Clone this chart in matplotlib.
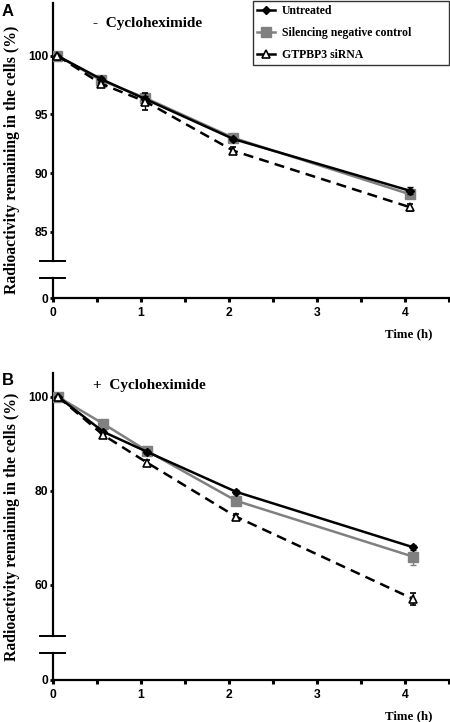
import matplotlib
matplotlib.use('Agg')
import matplotlib.pyplot as plt
from matplotlib.lines import Line2D
from matplotlib.ticker import MultipleLocator

# sampling times (h), points are drawn slightly right of the tick as in the figure
time_a = [0.05, 0.55, 1.05, 2.05, 4.05]
time_b = [0.06, 0.57, 1.07, 2.08, 4.09]

labels = ['Untreated', 'Silencing negative control', 'GTPBP3 siRNA']

# panel A: - cycloheximide
untreated_a = [100.0, 98.0, 96.3, 92.9, 88.5]
silencing_a = [100.0, 97.9, 96.4, 93.0, 88.2]
gtpbp3_a = [100.0, 97.6, 96.1, 91.9, 87.1]
untreated_a_err = [0.0, 0.2, 0.3, 0.2, 0.3]
silencing_a_err = [0.0, 0.2, 0.2, 0.2, 0.3]
gtpbp3_a_err = [0.0, 0.3, 0.7, 0.3, 0.3]

# panel B: + cycloheximide
untreated_b = [100.0, 92.6, 88.3, 79.8, 68.0]
silencing_b = [100.0, 94.3, 88.5, 77.9, 66.0]
gtpbp3_b = [100.0, 91.9, 86.0, 74.5, 57.0]
untreated_b_err = [0.0, 0.3, 0.4, 0.4, 0.5]
silencing_b_err = [0.0, 0.4, 0.5, 0.6, 1.8]
gtpbp3_b_err = [0.0, 0.5, 0.6, 0.6, 1.2]

SERIF = 'Liberation Serif'
SANS = 'Liberation Sans'
W, H = 450, 722
TICK_FS = 8.7

STYLES = [
    dict(color='black', ls='-', marker='D', ms=4.5, mfc='black', lw=1.8, zorder=4),
    dict(color='#808080', ls='-', marker='s', ms=6.5, mfc='#808080', mec='#808080', lw=1.8, zorder=3),
    dict(color='black', ls=(0, (4, 2.5)), marker='^', ms=6, mfc='white', mew=1.2, lw=1.8, zorder=5),
]


def frac(x0, y0, x1, y1):
    # pixel box (top-left origin) -> figure fraction rect
    return [x0 / W, 1 - y1 / H, (x1 - x0) / W, (y1 - y0) / H]


def draw_series(ax, t, ys, errs):
    for y, e, st, lab in zip(ys, errs, STYLES, labels):
        c = ax.errorbar(t, y, yerr=e, capsize=2.5, elinewidth=1.0, capthick=1.0,
                        ecolor=st['color'], label=lab, **st)
        c[-1][0].set_linestyle('-')


def panel(top_box, bot_box, ylim, yticks, t, ys, errs, letter, title, ty, ylab_y,
          legend=False):
    fig = plt.gcf()
    ax = fig.add_axes(frac(*top_box))
    axb = fig.add_axes(frac(*bot_box))
    xmax = 4.51
    for a in (ax, axb):
        a.set_xlim(0, xmax)
        a.spines['top'].set_visible(False)
        a.spines['right'].set_visible(False)
        a.spines['left'].set_linewidth(1.6)
        a.patch.set_alpha(0)
    ax.spines['bottom'].set_visible(False)
    ax.set_xticks([])
    ax.set_ylim(*ylim)
    ax.set_yticks(yticks)
    ax.set_yticklabels([str(v) for v in yticks], fontfamily=SANS, fontweight='bold',
                       fontsize=TICK_FS)
    ax.tick_params(axis='y', length=2.5, width=2, pad=1)

    axb.set_ylim(0, 1)
    axb.set_yticks([0])
    axb.set_yticklabels(['0'], fontfamily=SANS, fontweight='bold', fontsize=TICK_FS)
    axb.tick_params(axis='y', length=2.5, width=2, pad=1)
    axb.spines['bottom'].set_linewidth(1.6)
    axb.xaxis.set_minor_locator(MultipleLocator(0.5))
    axb.set_xticks([0, 1, 2, 3, 4])
    axb.set_xticklabels(['0', '1', '2', '3', '4'], fontfamily=SANS, fontweight='bold',
                        fontsize=TICK_FS)
    axb.tick_params(axis='x', which='both', length=3, width=2.2, pad=3.5)

    # break marks, about 13 px left and 12 px right of the spine
    width = top_box[2] - top_box[0]
    ax.plot([-13 / width, 12 / width], [0, 0], transform=ax.transAxes, color='black',
            lw=1.4, clip_on=False)
    axb.plot([-13 / width, 12 / width], [1, 1], transform=axb.transAxes, color='black',
             lw=1.4, clip_on=False)

    draw_series(ax, t, ys, errs)

    x0, y0, x1, y1 = top_box
    fig.text(2 / W, 1 - (y0 + 8) / H, letter, fontfamily=SANS, fontweight='bold', fontsize=12,
             va='center', ha='left')
    fig.text(93 / W, 1 - ty / H, title, fontfamily=SERIF, fontweight='bold', fontsize=11,
             va='center', ha='left')
    fig.text(12 / W, 1 - ylab_y / H, 'Radioactivity remaining in the cells (%)', rotation=90,
             fontfamily=SERIF, fontweight='bold', fontsize=11.3, va='center', ha='center')
    fig.text(409 / W, 1 - (bot_box[3] + 36) / H, 'Time (h)', fontfamily=SERIF, fontweight='bold',
             fontsize=9.3, va='center', ha='center')

    if legend:
        handles = []
        for st in STYLES:
            kw = {k: v for k, v in st.items() if k != 'zorder'}
            kw['ls'] = '-'
            handles.append(Line2D([], [], **kw))
        leg = fig.legend(handles=handles, labels=labels, loc='upper left',
                         bbox_to_anchor=(253 / W, 1 - 1 / H, (449 - 253) / W, 0), mode='expand',
                         frameon=True, fancybox=False, edgecolor='black',
                         handlelength=1.5, handletextpad=0.6, borderpad=0.35,
                         labelspacing=0.85, borderaxespad=0,
                         prop=dict(family=SERIF, weight='bold', size=8.5))
        leg.get_frame().set_linewidth(1.0)


fig = plt.figure(figsize=(4.5, 7.22), dpi=100)

panel((53, 3, 450, 261), (53, 278, 450, 298), (82.5, 104.5), [85, 90, 95, 100],
      time_a, [untreated_a, silencing_a, gtpbp3_a],
      [untreated_a_err, silencing_a_err, gtpbp3_a_err],
      'A', '-  Cycloheximide', 24, 160, legend=True)

panel((53, 373, 450, 636), (53, 653, 450, 680), (49.1, 105.1), [60, 80, 100],
      time_b, [untreated_b, silencing_b, gtpbp3_b],
      [untreated_b_err, silencing_b_err, gtpbp3_b_err],
      'B', '+  Cycloheximide', 385, 527)

fig.savefig('out.png', dpi=100)
